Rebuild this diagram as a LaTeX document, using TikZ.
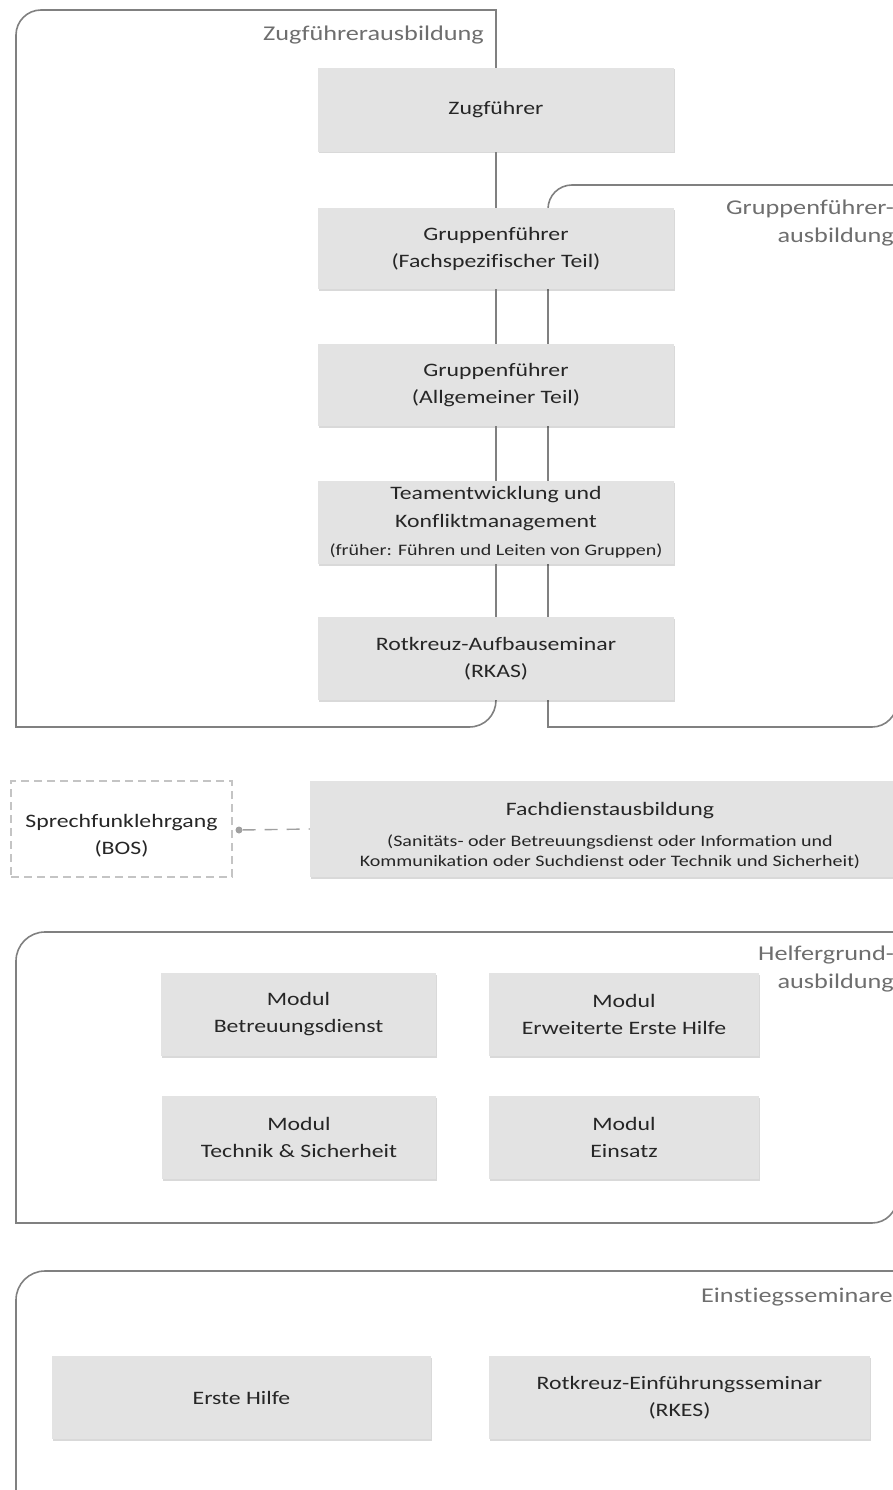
\documentclass[tikz,border=0pt]{standalone}
\usepackage{fontspec}
\setmainfont[FakeStretch=1.25,Ligatures=NoCommon]{Carlito}
\usetikzlibrary{shadows}
\definecolor{boxgray}{HTML}{E3E3E3}
\definecolor{linegray}{HTML}{808080}
\definecolor{labelgray}{HTML}{6E6E6E}
\definecolor{textdark}{HTML}{262626}
\definecolor{dashgray}{HTML}{C4C4C4}
\definecolor{dotgray}{HTML}{A0A0A0}
\newcommand\boxfont{\fontsize{19}{27}\selectfont}
\newcommand\smfont{\fontsize{16}{19}\selectfont}
\newcommand\lblfont{\fontsize{21}{28}\selectfont}
\begin{document}
\begin{tikzpicture}[x=1pt,y=-1pt,
  cont/.style={draw=linegray, line width=1.6pt},
  conn/.style={draw=linegray, line width=1.6pt},
  dashconn/.style={draw=dotgray, line width=1.4pt, dash pattern=on 13pt off 9pt},
  stepbox/.style={fill=boxgray, inner sep=0pt, align=center, font=\boxfont, text=textdark,
    drop shadow={shadow xshift=1pt, shadow yshift=-1.5pt, opacity=0.15, fill=black}},
  optbox/.style={draw=dashgray, dash pattern=on 8pt off 5pt, line width=1.2pt, fill=white,
    inner sep=0pt, align=center, font=\boxfont, text=textdark},
  grp/.style={font=\lblfont, text=labelgray, align=right, inner sep=0pt},
  dotnode/.style={circle, fill=dotgray, minimum size=7pt, inner sep=0pt}]
\useasboundingbox (0,0) rectangle (893,1490);
\clip (0,0) rectangle (893,1490);

% containers
\draw[cont] (16,727) -- (16,35) .. controls (16,21.2) and (27.2,10) .. (41,10)
  -- (496,10) -- (496,700) .. controls (496,714.9) and (484.9,727) .. (469,727) -- cycle;
\draw[cont] (548,727) -- (548,209) .. controls (548,195.7) and (558.7,185) .. (572,185)
  -- (897,185) -- (897,702) .. controls (897,715.8) and (885.8,727) .. (872,727) -- cycle;
\draw[cont] (16,1223) -- (16,961) .. controls (16,945) and (29,932) .. (45,932)
  -- (897,932) -- (897,1198) .. controls (897,1211.8) and (885.8,1223) .. (872,1223) -- cycle;
\draw[cont] (16,1500) -- (16,1300) .. controls (16,1284) and (29,1271) .. (45,1271) -- (897,1271) -- (897,1500);

% container labels
\node[grp, anchor=east] (lzug) at (484,35) {Zugführerausbildung};
\node[grp, anchor=east] (lgf) at (894,223) {Gruppenführer-\\ausbildung};
\node[grp, anchor=east] (lhg) at (894,969) {Helfergrund-\\ausbildung};
\node[grp, anchor=east] (les) at (893,1297) {Einstiegsseminare};

% leadership chain
\node[stepbox, minimum width=356pt, minimum height=84pt] (zf) at (496,110) {Zugführer};
\node[stepbox, minimum width=356pt, minimum height=81pt] (gft) at (496,248.5) {Gruppenführer\\(Fachspezifischer Teil)};
\node[stepbox, minimum width=356pt, minimum height=82pt] (gat) at (496,385) {Gruppenführer\\(Allgemeiner Teil)};
\node[stepbox, minimum width=356pt, minimum height=83pt] (team) at (496,522.5)
  {Teamentwicklung und\\[1pt]Konfliktmanagement\\[1pt]\smfont(früher: Führen und Leiten von Gruppen)};
\node[stepbox, minimum width=356pt, minimum height=83pt] (rkas) at (496,658.5) {Rotkreuz-Aufbauseminar\\(RKAS)};

\draw[conn] (zf) -- (gft);
\draw[conn] (gft) -- (gat);
\draw[conn] (gat) -- (team);
\draw[conn] (team) -- (rkas);

% Fachdienst
\node[optbox, minimum width=221pt, minimum height=96pt] (sp) at (121.5,829) {\mbox{}\\Sprechfunklehrgang\\(BOS)};
\node[stepbox, minimum width=600pt, minimum height=96pt] (fd) at (610,829)
  {\mbox{}\\Fachdienstausbildung\\[4pt]\smfont(Sanitäts- oder Betreuungsdienst oder Information und\\[-7pt]\smfont Kommunikation oder Suchdienst oder Technik und Sicherheit)};
\node[dotnode] (dot) at (239,830) {};
\draw[dashconn] (dot) -- (fd.west);

% Helfergrundausbildung
\node[stepbox, minimum width=275pt, minimum height=83pt] (mbd) at (298.5,1014.5) {Modul\\Betreuungsdienst};
\node[stepbox, minimum width=270pt, minimum height=83pt] (meh) at (624,1014.5) {Modul\\Erweiterte Erste Hilfe};
\node[stepbox, minimum width=274pt, minimum height=83pt] (mts) at (299,1137.5) {Modul\\Technik \& Sicherheit};
\node[stepbox, minimum width=270pt, minimum height=83pt] (mei) at (624,1137.5) {Modul\\Einsatz};

% Einstiegsseminare
\node[stepbox, minimum width=379pt, minimum height=83pt] (eh) at (241.5,1397.5) {Erste Hilfe};
\node[stepbox, minimum width=381pt, minimum height=83pt] (rkes) at (679.5,1397.5) {Rotkreuz-Einführungsseminar\\(RKES)};
\end{tikzpicture}
\end{document}
